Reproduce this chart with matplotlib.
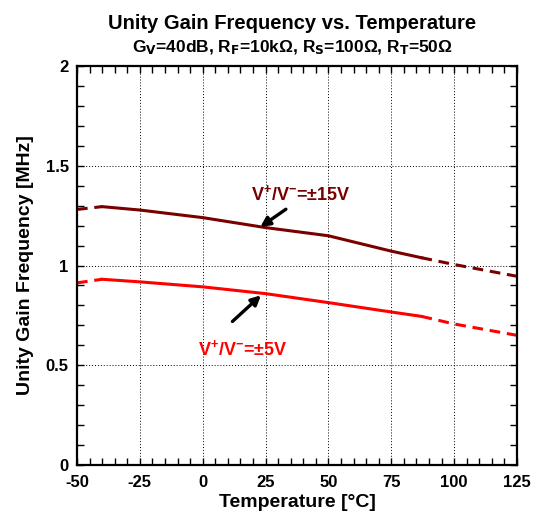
import matplotlib.pyplot as plt
from matplotlib.ticker import MultipleLocator, FuncFormatter

plt.rcParams['font.family'] = ['Liberation Sans', 'DejaVu Sans']
plt.rcParams['font.weight'] = 'bold'
plt.rcParams['mathtext.default'] = 'regular'
plt.rcParams['axes.unicode_minus'] = False

temps = [-50, -40, -25, 0, 25, 50, 75, 87, 100, 125]
ugf_15v = [1.281, 1.295, 1.278, 1.24, 1.19, 1.149, 1.072, 1.039, 1.005, 0.946]
ugf_5v = [0.913, 0.931, 0.918, 0.893, 0.859, 0.814, 0.767, 0.745, 0.707, 0.65]
# measured range drawn solid, extrapolated ends dashed
solid_from, solid_to = 1, 7

fig = plt.figure(figsize=(5.41, 5.27), dpi=100)
ax = fig.add_axes([0.1423, 0.1176, 0.8133, 0.7572])


def draw_curve(y, color):
    dash = (0, (3.5, 2.2))
    ax.plot(temps[:solid_from + 1], y[:solid_from + 1], color=color, lw=2.2, ls=dash)
    ax.plot(temps[solid_from:solid_to + 1], y[solid_from:solid_to + 1], color=color, lw=2.2)
    ax.plot(temps[solid_to:], y[solid_to:], color=color, lw=2.2, ls=dash)


draw_curve(ugf_15v, '#7a0000')
draw_curve(ugf_5v, '#ff0000')

ax.set_xlim(-50, 125)
ax.set_ylim(0, 2)
ax.xaxis.set_major_locator(MultipleLocator(25))
ax.xaxis.set_minor_locator(MultipleLocator(5))
ax.yaxis.set_major_locator(MultipleLocator(0.5))
ax.yaxis.set_minor_locator(MultipleLocator(0.1))
ax.yaxis.set_major_formatter(FuncFormatter(lambda v, p: ('%g' % v)))
ax.tick_params(which='both', direction='in', top=True, right=True, labelsize=12)
ax.tick_params(axis='x', pad=7)
ax.tick_params(axis='y', pad=6)
ax.tick_params(which='both', length=5, width=1)
for lbl in ax.get_xticklabels() + ax.get_yticklabels():
    lbl.set_fontweight('bold')
for s in ax.spines.values():
    s.set_linewidth(1.6)
ax.grid(True, which='major', color='black', ls=(0, (1, 2)), lw=0.7)

ax.set_xlabel('Temperature [°C]', fontsize=14, fontweight='bold', labelpad=3)
ax.set_ylabel('Unity Gain Frequency [MHz]', fontsize=14, fontweight='bold', labelpad=8)

fig.text(0.5405, 0.956, 'Unity Gain Frequency vs. Temperature', ha='center', va='center',
         fontsize=14.5, fontweight='bold')
fig.text(0.5405, 0.91,
         r'G$_{\mathsf{V}}$=40dB, R$_{\mathsf{F}}$=10k$\Omega$, R$_{\mathsf{S}}$=100$\Omega$, R$_{\mathsf{T}}$=50$\Omega$',
         ha='center', va='center', fontsize=12.5, fontweight='bold')

ax.text(39, 1.36, r'V$^{+}$/V$^{-}$=$\pm$15V', color='#7a0000', fontsize=13, fontweight='bold',
        ha='center', va='center')
ax.annotate('', xy=(22, 1.185), xytext=(34, 1.29),
            arrowprops=dict(arrowstyle='-|>', color='black', lw=2.4, mutation_scale=14))
ax.text(16, 0.58, r'V$^{+}$/V$^{-}$=$\pm$5V', color='#ff0000', fontsize=13, fontweight='bold',
        ha='center', va='center')
ax.annotate('', xy=(24, 0.86), xytext=(11, 0.71),
            arrowprops=dict(arrowstyle='-|>', color='black', lw=2.4, mutation_scale=14))

fig.savefig('out.png', dpi=100)
